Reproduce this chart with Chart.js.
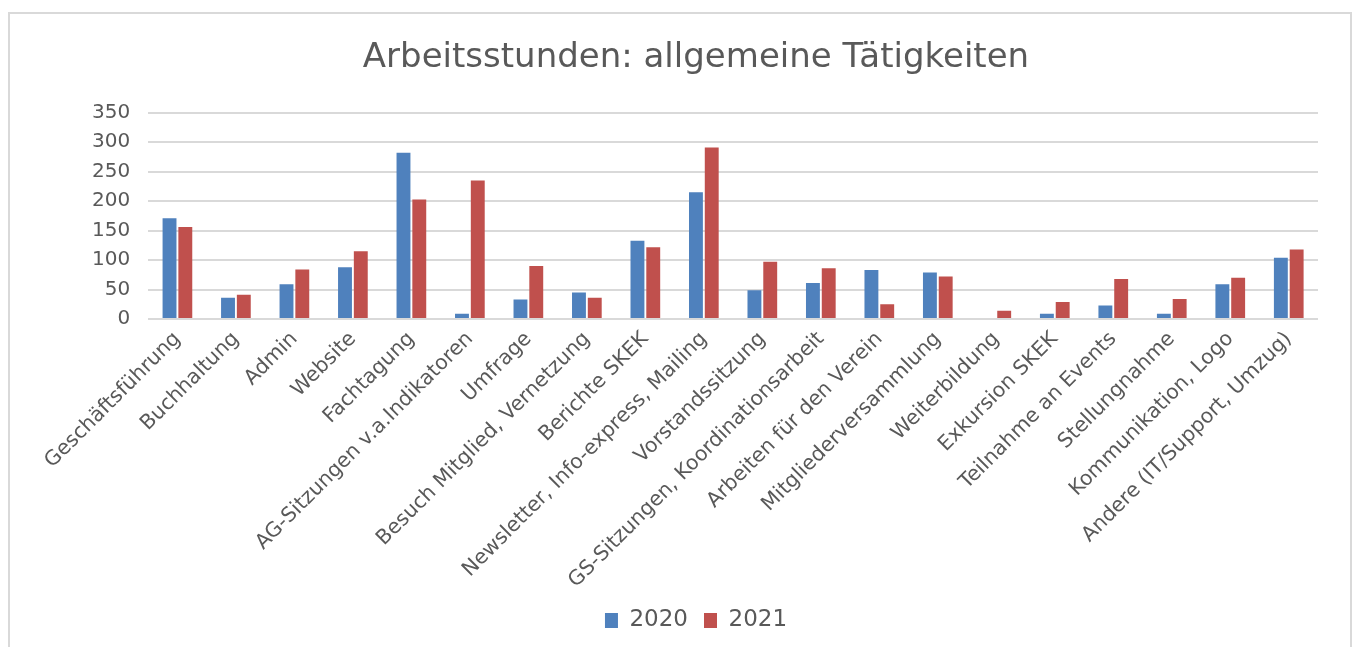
<!DOCTYPE html>
<html>
<head>
<meta charset="utf-8">
<script src="https://cdn.jsdelivr.net/npm/chart.js@4"></script>
<style>
  html, body { margin: 0; padding: 0; background: #fff; overflow: hidden; }
  #frame {
    position: absolute;
    left: 8px;
    top: 12px;
    width: 1340px;
    height: 645px;
    border: 2px solid #d9d9d9;
    background: #fff;
  }
</style>
</head>
<body>
<div id="frame">
  <canvas id="chartArbeitsstunden" width="1340" height="645"></canvas>
</div>
<script>
// Kategorien (x-Achse)
const categories = [
  'Geschäftsführung',
  'Buchhaltung',
  'Admin',
  'Website',
  'Fachtagung',
  'AG-Sitzungen v.a.Indikatoren',
  'Umfrage',
  'Besuch Mitglied, Vernetzung',
  'Berichte SKEK',
  'Newsletter, Info-express, Mailing',
  'Vorstandssitzung',
  'GS-Sitzungen, Koordinationsarbeit',
  'Arbeiten für den Verein',
  'Mitgliederversammlung',
  'Weiterbildung',
  'Exkursion SKEK',
  'Teilnahme an Events',
  'Stellungnahme',
  'Kommunikation, Logo',
  'Andere (IT/Support, Umzug)'
];

// Arbeitsstunden pro Jahr
const hours2020 = [171, 36, 59, 88, 282, 9, 33, 45, 133, 215, 49, 61, 83, 79, 0, 9, 23, 9, 59, 104];
const hours2021 = [156, 41, 84, 115, 203, 235, 90, 36, 122, 291, 97, 86, 25, 72, 14, 29, 68, 34, 70, 118];

// Achsenbeschriftung y
const yTicks = [0, 50, 100, 150, 200, 250, 300, 350];

const textColor = '#595959';
const gridColor = '#d9d9d9';
const fontFamily = '"DejaVu Sans", "Open Sans", sans-serif';

const ctx = document.getElementById('chartArbeitsstunden').getContext('2d');

const chart = new Chart(ctx, {
  type: 'bar',
  data: {
    labels: categories,
    datasets: [{
      label: '2020',
      data: hours2020,
      backgroundColor: '#4f81bd',
      borderWidth: 0
    }, {
      label: '2021',
      data: hours2021,
      backgroundColor: '#c0504d',
      borderWidth: 0
    }]
  },
  options: {
    responsive: false,
    animation: false,
    layout: {
      padding: { left: 64, right: 32, top: 24, bottom: 17 }
    },
    datasets: {
      bar: {
        categoryPercentage: 0.54,
        barPercentage: 0.88
      }
    },
    plugins: {
      title: {
        display: true,
        text: 'Arbeitsstunden: allgemeine Tätigkeiten',
        color: textColor,
        font: { family: fontFamily, size: 34, weight: 'normal' },
        padding: { top: 0, bottom: 34 }
      },
      legend: {
        position: 'bottom',
        labels: {
          color: textColor,
          font: { family: fontFamily, size: 23 },
          boxWidth: 13,
          boxHeight: 15,
          padding: 16
        }
      },
      tooltip: { enabled: false }
    },
    scales: {
      x: {
        grid: { display: false },
        border: { display: false },
        ticks: {
          color: textColor,
          font: { family: fontFamily, size: 20.5 },
          minRotation: 45,
          maxRotation: 45,
          autoSkip: false,
          padding: 0
        }
      },
      y: {
        min: 0,
        max: 350,
        afterBuildTicks: function(axis) {
          axis.ticks = yTicks.map(v => ({ value: v }));
        },
        grid: { color: gridColor, lineWidth: 2, drawTicks: false },
        border: { display: false },
        ticks: {
          color: textColor,
          font: { family: fontFamily, size: 20 },
          padding: 18,
          autoSkip: false
        }
      }
    }
  }
});
</script>
</body>
</html>
